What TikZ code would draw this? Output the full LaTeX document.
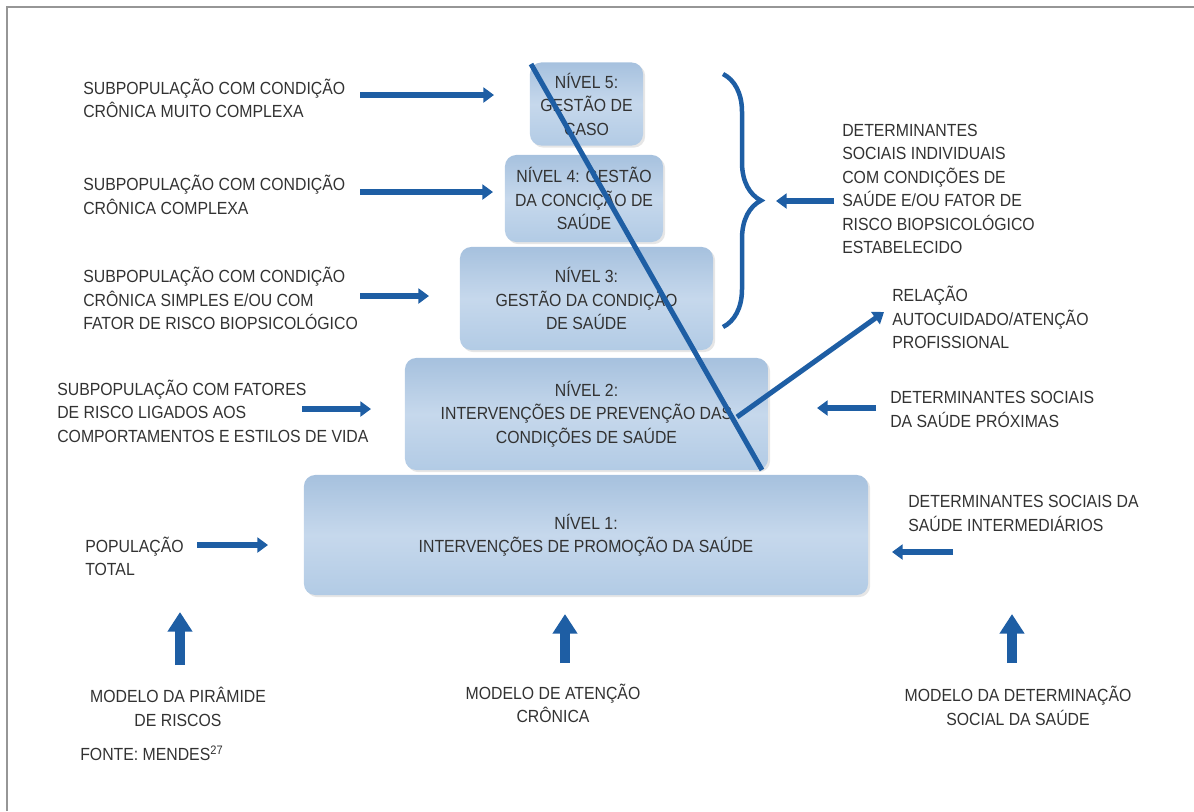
\documentclass[tikz,border=0pt]{standalone}
\usepackage{fontspec}
\setmainfont{Liberation Sans}[FakeStretch=0.9]
\usetikzlibrary{arrows.meta,decorations.pathreplacing,shadows}
\definecolor{pyrblue}{RGB}{30,94,164}
\definecolor{boxtop}{RGB}{166,193,222}
\definecolor{boxmid}{RGB}{198,216,236}
\definecolor{boxbot}{RGB}{178,203,229}
\definecolor{txtgray}{RGB}{50,50,50}
\definecolor{framegray}{RGB}{150,150,150}

\begin{document}
\begin{tikzpicture}[x=0.025cm,y=-0.025cm,
  every node/.style={font=\fontsize{12.5}{16.7}\selectfont,text=txtgray,inner sep=0pt},
  level/.style={rounded corners=8pt,top color=boxtop,bottom color=boxbot,middle color=boxmid,
    align=center,drop shadow={opacity=0.2,shadow xshift=1.5pt,shadow yshift=-1.5pt}},
  flow/.style={pyrblue,line width=4.2pt,-{Triangle[width=10.5pt,length=7.5pt]}},
  model/.style={pyrblue,line width=6.5pt,-{Triangle[width=17pt,length=14pt]}}]
   \useasboundingbox (0,0) rectangle (1194,811);
   \draw[framegray,line width=1.5pt] (7,811) -- (7,7) -- (1194,7);

   \begin{scope}[every node/.append style={level}]
    \node[minimum width=14.1cm,minimum height=3cm] (lvl1) at (586,535)
      {NÍVEL 1:\\INTERVENÇÕES DE PROMOÇÃO DA SAÚDE};
    \node[minimum width=9.075cm,minimum height=2.8cm] (lvl2) at (586.5,414)
      {NÍVEL 2:\\INTERVENÇÕES DE PREVENÇÃO DAS\\CONDIÇÕES DE SAÚDE};
    \node[minimum width=6.325cm,minimum height=2.575cm] (lvl3) at (586.5,298.5)
      {NÍVEL 3:\\GESTÃO DA CONDIÇÃO\\DE SAÚDE};
    \node[minimum width=3.95cm,minimum height=2.175cm] (lvl4) at (584,198.5)
      {NÍVEL 4: GESTÃO\\DA CONCIÇÃO DE\\SAÚDE};
    \node[minimum width=2.825cm,minimum height=2.075cm] (lvl5) at (586.5,104)
      {NÍVEL 5:\\GESTÃO DE\\CASO};
   \end{scope}

   \begin{scope}[every node/.append style={anchor=west,align=left}]
    \node (sub5) at (83,98.5) {SUBPOPULAÇÃO COM CONDIÇÃO\\CRÔNICA MUITO COMPLEXA};
    \node (sub4) at (83,195) {SUBPOPULAÇÃO COM CONDIÇÃO\\CRÔNICA COMPLEXA};
    \node (sub3) at (83,298.5) {SUBPOPULAÇÃO COM CONDIÇÃO\\CRÔNICA SIMPLES E/OU COM\\FATOR DE RISCO BIOPSICOLÓGICO};
    \node (sub2) at (57,411) {SUBPOPULAÇÃO COM FATORES\\DE RISCO LIGADOS AOS\\COMPORTAMENTOS E ESTILOS DE VIDA};
    \node (pop) at (85,556.5) {POPULAÇÃO\\TOTAL};
    \node (detind) at (842,189) {DETERMINANTES\\SOCIAIS INDIVIDUAIS\\COM CONDIÇÕES DE\\SAÚDE E/OU FATOR DE\\RISCO BIOPSICOLÓGICO\\ESTABELECIDO};
    \node (rel) at (892,317.5) {RELAÇÃO\\AUTOCUIDADO/ATENÇÃO\\PROFISSIONAL};
    \node (detprox) at (890,409.5) {DETERMINANTES SOCIAIS\\DA SAÚDE PRÓXIMAS};
    \node (detinter) at (908,513.5) {DETERMINANTES SOCIAIS DA\\SAÚDE INTERMEDIÁRIOS};
    \node (fonte) at (80,753) {FONTE: MENDES\textsuperscript{27}};
   \end{scope}

   \begin{scope}[every node/.append style={align=center}]
    \node (mpir) at (178,707) {MODELO DA PIRÂMIDE\\DE RISCOS};
    \node (mac) at (553,703.5) {MODELO DE ATENÇÃO\\CRÔNICA};
    \node (mdet) at (1018,706) {MODELO DA DETERMINAÇÃO\\SOCIAL DA SAÚDE};
   \end{scope}

   \coordinate (d1) at (531,64);
   \coordinate (d2) at (762,470);
   \coordinate (r1) at (737,417);
   \coordinate (r2) at (884,312);
   \coordinate (bt) at (723,74);
   \coordinate (bb) at (723,327);
   \draw[pyrblue,line width=3.6pt] (d1) -- (d2);
   \draw[pyrblue,line width=3.2pt,decorate,decoration={brace,amplitude=0.95cm,aspect=0.5}] (bt) -- (bb);

   \coordinate (a5s) at (360,95);   \coordinate (a5e) at (494,95);
   \coordinate (a4s) at (360,192);  \coordinate (a4e) at (493,192);
   \coordinate (a3s) at (360,296);  \coordinate (a3e) at (429,296);
   \coordinate (a2s) at (302,409);  \coordinate (a2e) at (371,409);
   \coordinate (a1s) at (197,545);  \coordinate (a1e) at (268,545);
   \coordinate (b1s) at (834,201);  \coordinate (b1e) at (776,201);
   \coordinate (b2s) at (876,408);  \coordinate (b2e) at (817,408);
   \coordinate (b3s) at (953,552);  \coordinate (b3e) at (892,552);
   \coordinate (m1s) at (180,665);  \coordinate (m1e) at (180,612);
   \coordinate (m2s) at (565,663);  \coordinate (m2e) at (565,614);
   \coordinate (m3s) at (1012,663); \coordinate (m3e) at (1012,614);
   \draw[flow] (a5s) -- (a5e);
   \draw[flow] (a4s) -- (a4e);
   \draw[flow] (a3s) -- (a3e);
   \draw[flow] (a2s) -- (a2e);
   \draw[flow] (a1s) -- (a1e);
   \draw[flow] (b1s) -- (b1e);
   \draw[flow] (b2s) -- (b2e);
   \draw[flow] (b3s) -- (b3e);
   \draw[flow,line width=3.6pt] (r1) -- (r2);
   \draw[model] (m1s) -- (m1e);
   \draw[model] (m2s) -- (m2e);
   \draw[model] (m3s) -- (m3e);
\end{tikzpicture}
\end{document}
